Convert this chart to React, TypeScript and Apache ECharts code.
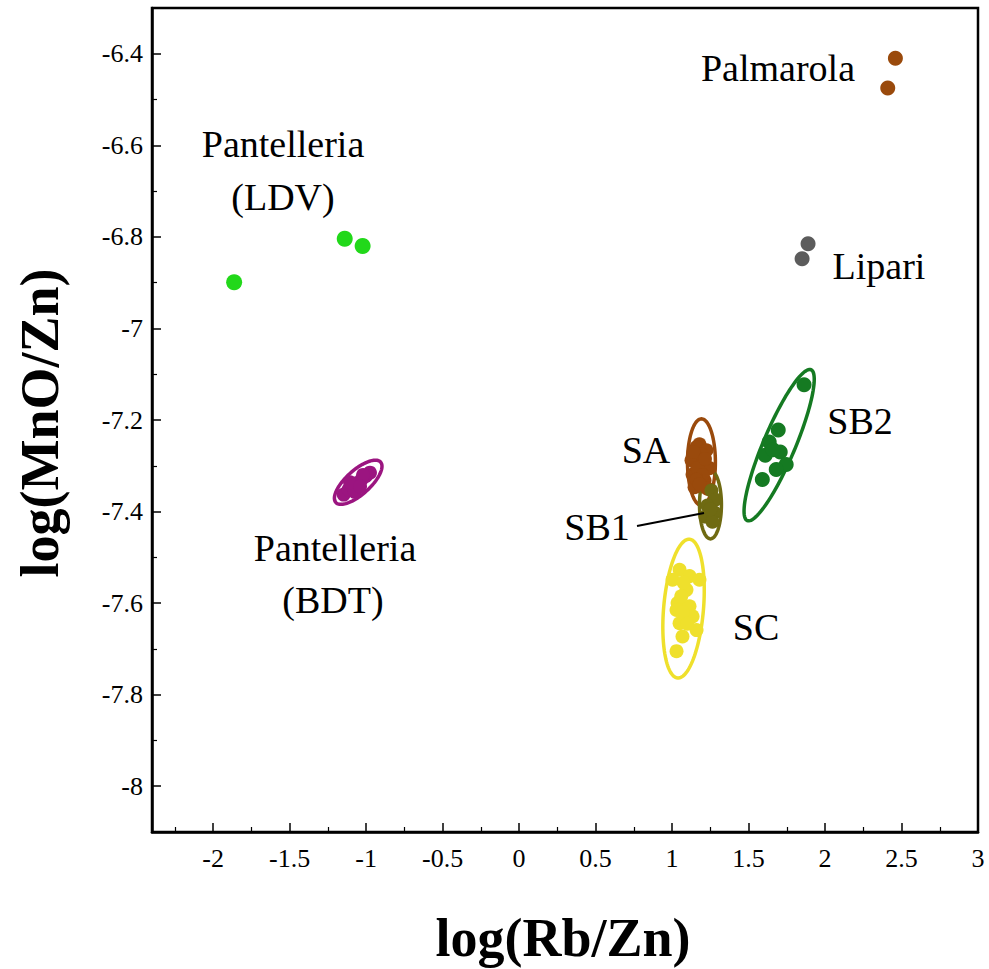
import { useEffect, useRef } from 'react';
import * as echarts from 'echarts';

// Axis tick positions and labels
const xMajorTicks = [-2, -1.5, -1, -0.5, 0, 0.5, 1, 1.5, 2, 2.5, 3];
const xMinorTicks = [-2.25, -1.75, -1.25, -0.75, -0.25, 0.25, 0.75, 1.25, 1.75, 2.25, 2.75];
const yMajorTicks = [-8, -7.8, -7.6, -7.4, -7.2, -7, -6.8, -6.6, -6.4];
const yMinorTicks = [-7.9, -7.7, -7.5, -7.3, -7.1, -6.9, -6.7, -6.5];

// Samples: [log(Rb/Zn), log(MnO/Zn)]
const palmarola = [[2.46, -6.41], [2.41, -6.475]];
const lipari = [[1.889, -6.815], [1.85, -6.848]];
const pantelleriaLDV = [[-1.863, -6.899], [-1.14, -6.804], [-1.023, -6.82]];
const pantelleriaBDT = [
  [-1.147, -7.363], [-1.115, -7.352], [-1.09, -7.345], [-1.062, -7.338],
  [-1.03, -7.33], [-1.0, -7.322], [-0.975, -7.315], [-1.075, -7.357], [-1.02, -7.32],
  [-1.105, -7.336], [-1.04, -7.345],
];
const sa = [
  [1.179, -7.253], [1.16, -7.259], [1.225, -7.266], [1.127, -7.288], [1.199, -7.297],
  [1.245, -7.305], [1.134, -7.319], [1.212, -7.332], [1.147, -7.347], [1.231, -7.35],
  [1.19, -7.275], [1.165, -7.305], [1.2, -7.32], [1.16, -7.33], [1.14, -7.27],
  [1.215, -7.285], [1.18, -7.34],
];
const sb1 = [
  [1.257, -7.354], [1.283, -7.374], [1.231, -7.387], [1.277, -7.402], [1.218, -7.411],
  [1.264, -7.422], [1.25, -7.395],
];
const sc = [
  [1.049, -7.527], [1.114, -7.541], [1.179, -7.549], [1.003, -7.549], [1.094, -7.571],
  [1.036, -7.6], [1.114, -7.607], [1.029, -7.615], [1.134, -7.629], [1.049, -7.644],
  [1.16, -7.659], [1.068, -7.673], [1.029, -7.705], [1.075, -7.555], [1.07, -7.62],
  [1.1, -7.645], [1.06, -7.585],
];
const sb2 = [
  [1.863, -7.123], [1.694, -7.222], [1.635, -7.248], [1.609, -7.277],
  [1.707, -7.27], [1.746, -7.297], [1.681, -7.308], [1.59, -7.33], [1.66, -7.265],
];

// Group ellipses: [centre x, centre y, semi-axis a (dx, dy), semi-axis b (dx, dy)]
const bdtEllipse = [-1.052, -7.336, 0.1466, 0.044, 0.052, -0.0198];
const saEllipse = [1.192, -7.292, 0, 0.0945, 0.0912, 0];
const sb1Ellipse = [1.251, -7.385, 0, 0.0747, 0.0717, 0];
const scEllipse = [1.075, -7.612, 0.039, 0.1516, 0.1297, -0.0038];
const sb2Ellipse = [1.7, -7.255, 0.2085, 0.1648, 0.0958, -0.0138];

const SERIF = "'Liberation Serif', 'Times New Roman', serif";
const X_MIN = -2.4;
const X_MAX = 3;
const Y_MIN = -8.1;
const Y_MAX = -6.3;

const colors = {
  palmarola: '#9a4a0c',
  lipari: '#5c5c5c',
  ldv: '#22d81a',
  bdt: '#9b1580',
  sa: '#9a4a0c',
  sb1: '#6f6a12',
  sc: '#efe02c',
  sb2: '#157a22',
};

function scatter(name: string, data: number[][], color: string, size: number) {
  return {
    name,
    type: 'scatter',
    data,
    symbol: 'circle',
    symbolSize: size,
    itemStyle: { color, opacity: 1 },
    emphasis: { disabled: true },
  };
}

function ellipse(name: string, params: number[], color: string) {
  return {
    name,
    type: 'custom',
    data: [params],
    encode: { x: 0, y: 1 },
    renderItem: (_p: any, api: any) => {
      const cx = api.value(0);
      const cy = api.value(1);
      const ax = api.value(2);
      const ay = api.value(3);
      const bx = api.value(4);
      const by = api.value(5);
      const points: number[][] = [];
      const n = 120;
      for (let i = 0; i < n; i++) {
        const t = (i / n) * Math.PI * 2;
        points.push(api.coord([cx + ax * Math.cos(t) + bx * Math.sin(t), cy + ay * Math.cos(t) + by * Math.sin(t)]));
      }
      return {
        type: 'polygon',
        shape: { points },
        style: { fill: 'none', stroke: color, lineWidth: 3.5 },
      };
    },
  };
}

// Tick labels placed on the axes through the chart's own scales
function tickLabels(name: string, values: number[], horizontal: boolean) {
  return {
    name,
    type: 'custom',
    data: values.map((v) => (horizontal ? [v, Y_MIN] : [X_MIN, v])),
    encode: { x: 0, y: 1 },
    clip: false,
    silent: true,
    renderItem: (_p: any, api: any) => {
      const pt = api.coord([api.value(0), api.value(1)]);
      const v = horizontal ? api.value(0) : api.value(1);
      return {
        type: 'text',
        x: horizontal ? pt[0] : pt[0] - 9,
        y: horizontal ? pt[1] + 26 : pt[1],
        style: {
          text: String(v),
          fill: '#000',
          fontSize: 26,
          fontFamily: 'Liberation Serif',
          fontWeight: 'normal',
          align: horizontal ? 'center' : 'right',
          verticalAlign: 'middle',
        },
      };
    },
  };
}

function label(text: string, x: number, y: number, size = 38, bold = false, rotation = 0) {
  return {
    type: 'text',
    x,
    y,
    rotation,
    z: 100,
    style: {
      text,
      fill: '#000',
      font: `${bold ? 'bold ' : ''}${size}px ${SERIF}`,
      align: 'center',
      verticalAlign: 'middle',
      textAlign: 'center',
      textVerticalAlign: 'middle',
    },
  };
}

export default function App() {
  const ref = useRef<HTMLDivElement>(null);

  useEffect(() => {
    if (!ref.current) return;
    const chart = echarts.init(ref.current, undefined, { renderer: 'svg' });

    const axisX = (ticks: number[], len: number, width: number, line: boolean) => ({
      type: 'value', min: X_MIN, max: X_MAX, position: 'bottom',
      axisLine: { show: line, onZero: false, lineStyle: { color: '#000', width: 2.5 } },
      axisTick: { show: true, inside: true, length: len, customValues: ticks, lineStyle: { color: '#000', width } },
      axisLabel: { show: false },
      splitLine: { show: false },
    });
    const axisY = (ticks: number[], len: number, width: number, line: boolean) => ({
      type: 'value', min: Y_MIN, max: Y_MAX, position: 'left',
      axisLine: { show: line, onZero: false, lineStyle: { color: '#000', width: 2.5 } },
      axisTick: { show: true, inside: true, length: len, customValues: ticks, lineStyle: { color: '#000', width } },
      axisLabel: { show: false },
      splitLine: { show: false },
    });

    chart.setOption({
      animation: false,
      backgroundColor: '#fff',
      textStyle: { fontFamily: 'Liberation Serif' },
      grid: {
        left: 152, right: 11, top: 8, bottom: 137,
        show: true, borderColor: '#000', borderWidth: 2.5,
      },
      xAxis: [axisX(xMajorTicks, 9, 1.5, true), axisX(xMinorTicks, 5, 1.2, false)],
      yAxis: [axisY(yMajorTicks, 9, 1.5, true), axisY(yMinorTicks, 5, 1.2, false)],
      series: [
        tickLabels('x ticks', xMajorTicks, true),
        tickLabels('y ticks', yMajorTicks, false),
        scatter('Pantelleria (BDT)', pantelleriaBDT, colors.bdt, 14),
        ellipse('Pantelleria (BDT) ellipse', bdtEllipse, colors.bdt),
        scatter('SA', sa, colors.sa, 14),
        ellipse('SA ellipse', saEllipse, colors.sa),
        scatter('SB1', sb1, colors.sb1, 14),
        ellipse('SB1 ellipse', sb1Ellipse, colors.sb1),
        scatter('SC', sc, colors.sc, 14),
        ellipse('SC ellipse', scEllipse, colors.sc),
        scatter('SB2', sb2, colors.sb2, 15),
        ellipse('SB2 ellipse', sb2Ellipse, colors.sb2),
        scatter('Palmarola', palmarola, colors.palmarola, 15),
        scatter('Lipari', lipari, colors.lipari, 15),
        scatter('Pantelleria (LDV)', pantelleriaLDV, colors.ldv, 16),
      ],
      graphic: [
        label('Palmarola', 778, 68),
        label('Pantelleria', 283, 144),
        label('(LDV)', 283, 197),
        label('Lipari', 879, 266),
        label('SB2', 860, 421),
        label('SA', 646, 450),
        label('SB1', 597, 527),
        label('SC', 756, 627),
        label('Pantelleria', 335, 548),
        label('(BDT)', 333, 600),
        {
          type: 'line',
          z: 100,
          shape: { x1: 637, y1: 526, x2: 704, y2: 513 },
          style: { stroke: '#000', lineWidth: 2 },
        },
        label('log(Rb/Zn)', 563, 938, 54, true),
        label('log(MnO/Zn)', 40, 423, 54, true, Math.PI / 2),
      ],
    });

    return () => chart.dispose();
  }, []);

  return (
    <div
      ref={ref}
      style={{ position: 'fixed', left: 0, top: 0, width: 989, height: 969, background: '#fff' }}
    />
  );
}
